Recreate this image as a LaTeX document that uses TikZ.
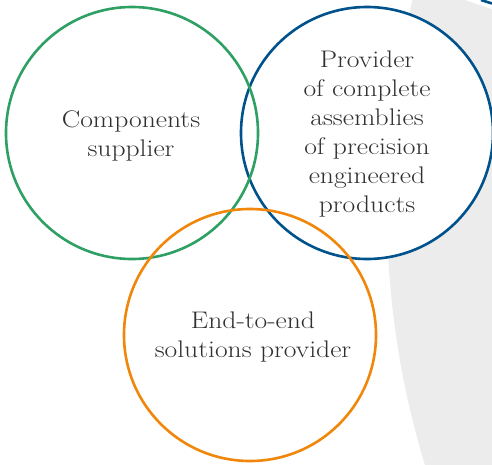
\documentclass[tikz,border=0pt]{standalone}
\usepackage{fontspec}
\setmainfont{Latin Modern Roman}[FakeStretch=1.15]
\usepackage{xcolor}
\definecolor{ringgreen}{RGB}{46,160,100}
\definecolor{ringblue}{RGB}{0,82,140}
\definecolor{ringorange}{RGB}{240,135,10}
\definecolor{backgray}{RGB}{236,236,236}
\definecolor{textgray}{RGB}{48,48,48}
\begin{document}
\begin{tikzpicture}[x=1pt,y=-1pt,
    ring/.style={circle,minimum size=252pt,inner sep=0pt,line width=2.6pt},
    ringtext/.style={text=textgray,align=center,font=\fontsize{24}{29}\selectfont}]
            \useasboundingbox (0,0) rectangle (492,464);
            \begin{scope}
                \clip (0,0) rectangle (492,464);
                \fill[backgray] (1257,210) circle (870pt);
                \fill[white] (465,0) -- (492,9) -- (492,0) -- cycle;
                \draw[ringblue,line width=2.6pt] (481,0) -- (492,3.5);
            \end{scope}
            \coordinate (G) at (132,133);
            \coordinate (B) at (367,133);
            \coordinate (O) at (250,335);
            \node[ring,draw=ringblue,fill=white] (provider) at (B) {};
            \node[ring,draw=ringgreen] (supplier) at (G) {};
            \node[ring,draw=ringorange] (solutions) at (O) {};
            \node[ringtext] (suppliertext) at (131,136) {Components\\supplier};
            \node[ringtext] (providertext) at (367,134) {Provider\\of complete\\assemblies\\of precision\\engineered\\products};
            \node[ringtext] (solutionstext) at (253,337) {End-to-end\\solutions provider};
        \end{tikzpicture}
\end{document}
